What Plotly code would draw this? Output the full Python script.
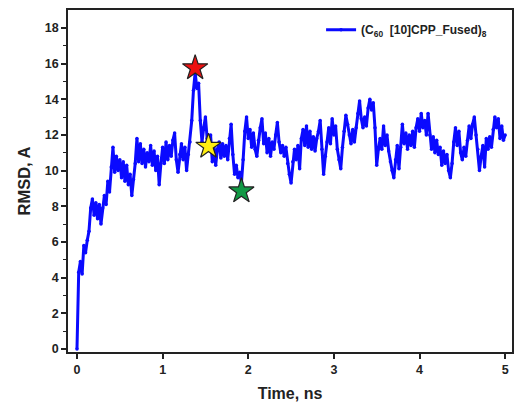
import numpy as np
import plotly.graph_objects as go

rmsd = [
    0.0, 4.3, 4.9, 4.2, 5.8, 5.4, 6.1, 6.6, 7.9, 8.4,
    7.5, 8.2, 7.3, 8.1, 7.0, 7.9, 8.6, 8.1, 9.4, 8.8,
    10.2, 11.3, 9.9, 10.8, 10.0, 10.6, 9.6, 10.5, 9.4, 10.3,
    9.2, 9.8, 8.6, 9.5, 10.4, 11.8, 10.5, 11.5, 10.4, 11.2,
    10.2, 11.0, 10.5, 11.4, 10.3, 11.1, 10.0, 10.8, 9.2, 10.4,
    11.3, 10.4, 11.6, 10.6, 11.4, 10.8, 11.7, 12.1, 10.6, 9.9,
    10.9, 11.5, 10.6, 11.3, 10.0, 10.9, 11.6, 12.8, 14.5, 15.5,
    14.6, 14.9, 12.8, 11.6, 12.4, 13.0, 11.8, 11.3, 12.0, 10.5,
    11.4, 10.3, 11.2, 11.6, 10.7, 11.5, 10.8, 11.4, 10.6, 11.8,
    12.6, 10.9, 9.8, 10.3, 9.6, 9.9, 9.3, 10.6, 12.2, 13.0,
    11.8, 12.3, 11.3, 12.1, 11.2, 10.8, 11.7, 12.4, 12.9, 11.5,
    12.1, 11.0, 11.8, 10.8, 11.6, 11.2, 12.0, 12.7, 11.6, 11.0,
    11.4, 10.8, 11.3, 10.4, 9.8, 9.3, 10.5, 11.2, 10.6, 11.4,
    10.1, 11.8, 12.3, 11.4, 12.5, 11.3, 12.2, 11.2, 11.9, 11.1,
    11.8, 12.2, 12.8, 11.2, 9.8, 10.8, 11.6, 12.4, 11.5, 12.9,
    12.0, 12.5, 11.2, 10.6, 10.1, 11.3, 12.2, 13.1, 12.6, 12.0,
    11.5, 12.3, 11.6, 12.4, 13.2, 13.9, 12.9, 12.4, 13.0, 12.5,
    13.5, 14.0, 13.4, 13.8, 12.4, 10.3, 11.2, 11.8, 11.2, 12.5,
    11.4, 12.0, 11.1, 10.5, 10.0, 9.6, 10.6, 11.4, 10.1, 11.3,
    12.6, 11.5, 12.1, 11.2, 12.0, 11.4, 12.2, 11.3, 12.4, 12.9,
    12.2, 13.2, 12.4, 12.8, 12.0, 13.2, 12.0, 11.2, 11.9, 11.0,
    11.7, 10.9, 11.3, 10.3, 11.1, 10.4, 10.9, 10.0, 9.6, 10.4,
    11.6, 12.4, 11.4, 12.2, 11.0, 10.6, 11.3, 10.8, 11.7, 12.5,
    11.8, 12.6, 13.0, 12.0, 11.2, 10.0, 10.8, 11.4, 10.2, 11.8,
    11.2, 11.9, 11.3, 12.3, 13.0, 12.4, 12.9, 11.8, 12.5, 11.7,
    12.0,
]
time_step = 0.02
time_ns = [round(i * time_step, 2) for i in range(len(rmsd))]

# highlighted frames (stars)
star_t = [1.38, 1.535, 1.92]
star_v = [15.75, 11.35, 8.85]
star_colors = ["#ee1111", "#ffee11", "#119944"]

series_name = "(C<sub>60</sub>  [10]CPP_Fused)<sub>8</sub>"

fig = go.Figure()
fig.add_trace(go.Scatter(
    x=time_ns, y=rmsd, mode="lines+markers", name=series_name,
    line=dict(color="#0a0aff", width=3),
    marker=dict(color="#0a0aff", size=3.5),
))
fig.add_trace(go.Scatter(
    x=star_t, y=star_v, mode="markers", showlegend=False,
    marker=dict(symbol="star", size=19, color=star_colors,
                line=dict(color="#222222", width=1.2)),
))

axis_font = dict(family="Liberation Sans, Arial", size=12.5, color="#222222")
fig.update_layout(
    width=516, height=408,
    margin=dict(l=68, r=2, t=10, b=56),
    paper_bgcolor="white", plot_bgcolor="white",
    font=dict(family="Liberation Sans, Arial", color="#222222"),
    legend=dict(x=0.57, y=0.985, xanchor="left", yanchor="top",
                bgcolor="rgba(0,0,0,0)",
                font=dict(family="Liberation Sans, Arial", size=12, color="#222222",
                          weight="bold")),
    showlegend=True,
)
fig.update_xaxes(
    range=[-0.105, 5.08], tickmode="array", tickvals=[0, 1, 2, 3, 4, 5],
    ticks="outside", ticklen=5, tickwidth=1.5, tickcolor="#222222",
    showline=True, linecolor="#222222", linewidth=1.6, mirror=True,
    showgrid=False, zeroline=False,
    tickfont=dict(axis_font, weight="bold"),
    title=dict(text="<b>Time, ns</b>", font=dict(family="Liberation Sans, Arial", size=16, color="#222222"), standoff=12),
)
fig.update_yaxes(
    range=[-0.17, 19.0], tickmode="array", tickvals=[0, 2, 4, 6, 8, 10, 12, 14, 16, 18],
    ticks="outside", ticklen=5, tickwidth=1.5, tickcolor="#222222",
    minor=dict(tickvals=[1, 3, 5, 7, 9, 11, 13, 15, 17], ticks="outside", ticklen=3, tickcolor="#222222", tickwidth=1.2),
    showline=True, linecolor="#222222", linewidth=1.6, mirror=True,
    showgrid=False, zeroline=False,
    tickfont=dict(axis_font, weight="bold"),
    title=dict(text="<b>RMSD, A</b>", font=dict(family="Liberation Sans, Arial", size=16.5, color="#222222"), standoff=10),
)

fig.write_html("out.html")
